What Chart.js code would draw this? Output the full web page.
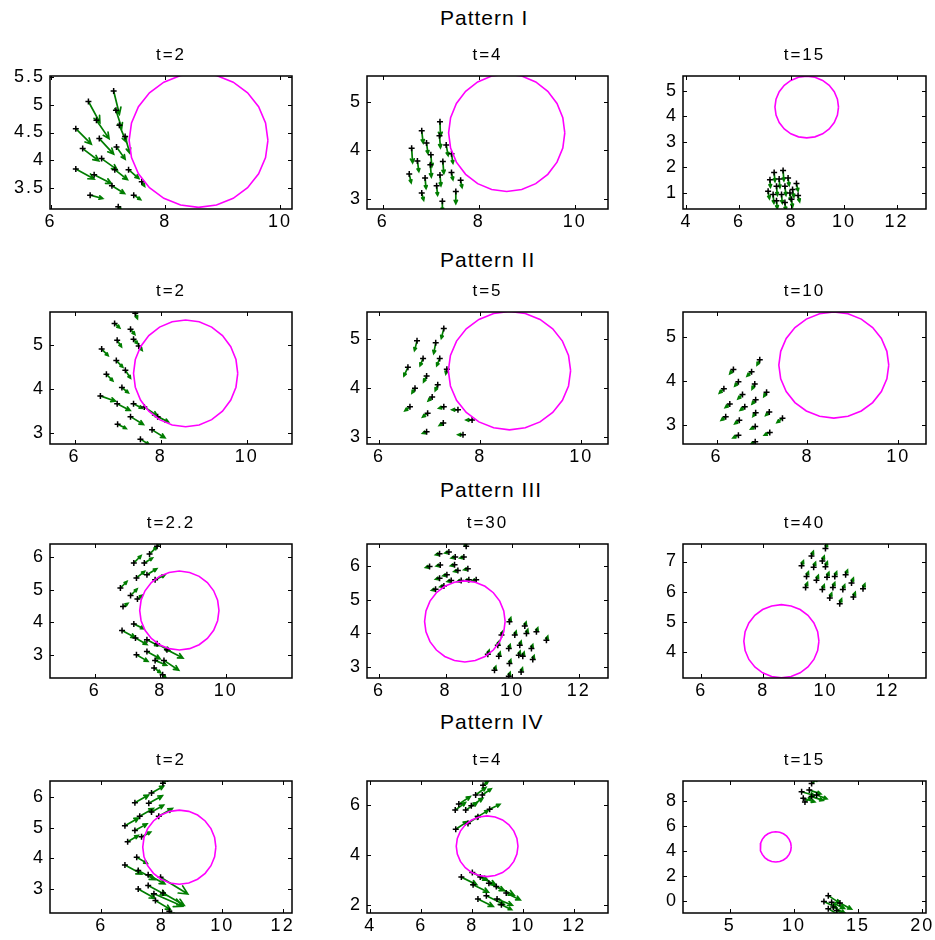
<!DOCTYPE html>
<html>
<head>
<meta charset="utf-8">
<script src="https://cdn.jsdelivr.net/npm/chart.js@4.4.1/dist/chart.umd.min.js"></script>
<style>
  body { margin: 0; background: #fff; width: 935px; height: 940px; position: relative; overflow: hidden;
         font-family: "Liberation Sans", Arial, sans-serif; }
  .heading { position: absolute; font-size: 21px; letter-spacing: 1px; color: #000; white-space: nowrap; }
</style>
</head>
<body>
<div class="heading" style="left:440px;top:6px">Pattern I</div>
<div class="heading" style="left:440px;top:248px">Pattern II</div>
<div class="heading" style="left:440px;top:478px">Pattern III</div>
<div class="heading" style="left:440px;top:710px">Pattern IV</div>
<script>
// obstacle (circle) shared by every snapshot
const obstacleCenter = [8.58, 4.36];
const obstacleRadius = 1.21;

// agents per snapshot: [x, y, u, v]  (position and heading vector)
const agentsI_t2 = [
  [7.10, 5.25, 0.10, -0.42], [6.66, 5.06, 0.20, -0.38], [7.14, 4.90, 0.10, -0.32],
  [6.80, 4.72, 0.22, -0.33], [7.20, 4.63, 0.12, -0.30], [7.30, 4.43, 0.08, -0.30],
  [6.44, 4.57, 0.27, -0.28], [6.85, 4.39, 0.25, -0.28], [7.15, 4.24, 0.15, -0.22],
  [6.56, 4.21, 0.28, -0.22], [6.89, 4.03, 0.27, -0.20], [7.12, 3.83, 0.22, -0.18],
  [7.36, 3.83, 0.18, -0.16], [6.44, 3.84, 0.32, -0.18], [6.76, 3.74, 0.30, -0.16],
  [7.59, 3.61, 0.05, -0.08], [7.07, 3.54, 0.22, -0.14], [6.69, 3.37, 0.22, -0.06],
  [7.45, 3.37, 0.12, -0.08], [7.18, 3.16, 0.05, -0.06]
];
const agentsI_t4 = [
  [7.19, 4.59, 0.01, -0.30], [6.81, 4.40, 0.03, -0.25], [6.91, 4.15, 0.03, -0.22],
  [6.60, 4.04, 0.02, -0.30], [7.18, 4.30, 0.02, -0.25], [7.32, 4.11, 0.04, -0.22],
  [6.72, 3.78, 0.03, -0.22], [7.00, 3.91, 0.02, -0.25], [7.43, 3.93, 0.03, -0.20],
  [7.25, 3.77, 0.02, -0.25], [6.99, 3.70, 0.02, -0.25], [6.55, 3.51, 0.04, -0.18],
  [6.88, 3.43, 0.02, -0.22], [7.19, 3.49, 0.02, -0.22], [7.43, 3.54, 0.03, -0.15],
  [7.62, 3.38, 0.03, -0.15], [7.12, 3.27, 0.02, -0.20], [6.81, 3.12, 0.04, -0.15],
  [7.52, 3.15, 0.00, -0.25], [7.24, 2.95, 0.00, -0.20]
];
const agentsI_t15 = [
  [7.34, 1.79, 0.03, -0.35], [7.68, 1.87, 0.03, -0.40], [7.18, 1.51, 0.02, -0.30],
  [7.53, 1.54, 0.03, -0.35], [7.87, 1.58, 0.04, -0.30], [8.19, 1.36, 0.06, -0.30],
  [7.11, 1.06, 0.05, -0.30], [7.43, 1.25, 0.03, -0.35], [7.75, 1.25, 0.04, -0.35],
  [8.04, 1.13, 0.05, -0.30], [7.30, 0.93, 0.03, -0.35], [7.62, 0.93, 0.03, -0.35],
  [7.94, 0.99, 0.03, -0.30], [8.25, 0.89, 0.06, -0.25], [7.43, 0.68, 0.03, -0.30],
  [7.75, 0.62, 0.03, -0.30], [8.00, 0.74, 0.04, -0.30]
];
const agentsII_t2 = [
  [7.41, 5.72, 0.05, -0.12], [6.93, 5.49, 0.12, -0.10], [7.30, 5.36, 0.10, -0.12],
  [6.99, 5.11, 0.10, -0.15], [7.37, 5.13, 0.10, -0.10], [6.63, 4.91, 0.15, -0.15],
  [7.49, 4.98, 0.08, -0.10], [6.97, 4.65, 0.15, -0.15], [7.18, 4.43, 0.12, -0.18],
  [6.74, 4.34, 0.15, -0.15], [7.10, 4.04, 0.15, -0.12], [6.60, 3.85, 0.35, -0.12],
  [6.99, 3.67, 0.30, -0.15], [7.37, 3.67, 0.20, -0.10], [7.62, 3.60, 0.30, -0.20],
  [7.30, 3.38, 0.30, -0.18], [7.93, 3.38, 0.25, -0.12], [7.00, 3.21, 0.20, -0.10],
  [7.80, 3.08, 0.30, -0.18], [7.53, 2.87, 0.20, -0.12]
];
const agentsII_t5 = [
  [7.28, 5.22, -0.05, -0.20], [6.75, 4.97, -0.05, -0.20], [7.12, 4.93, -0.04, -0.22],
  [6.87, 4.61, -0.06, -0.15], [7.20, 4.61, -0.06, -0.15], [6.57, 4.43, -0.08, -0.18],
  [6.94, 4.25, -0.06, -0.12], [7.34, 4.39, -0.02, -0.10], [7.16, 4.07, -0.05, -0.12],
  [6.71, 4.00, -0.06, -0.10], [7.05, 3.82, -0.08, -0.08], [6.61, 3.62, -0.10, -0.08],
  [6.96, 3.49, -0.10, -0.08], [7.28, 3.62, -0.10, -0.03], [7.56, 3.56, -0.12, 0.00],
  [7.84, 3.35, -0.12, 0.00], [7.27, 3.29, -0.08, -0.05], [6.94, 3.11, -0.08, -0.03],
  [7.66, 3.05, -0.10, 0.00]
];
const agentsII_t10 = [
  [6.95, 4.48, -0.06, -0.12], [6.37, 4.26, -0.08, -0.10], [6.77, 4.21, -0.10, -0.10],
  [6.48, 3.98, -0.08, -0.10], [6.84, 3.93, -0.06, -0.12], [6.16, 3.82, -0.10, -0.10],
  [7.10, 3.74, -0.06, -0.10], [6.57, 3.69, -0.10, -0.10], [6.86, 3.57, -0.08, -0.10],
  [6.29, 3.47, -0.10, -0.08], [6.62, 3.41, -0.10, -0.08], [6.86, 3.27, -0.06, -0.08],
  [7.16, 3.29, -0.08, -0.08], [6.20, 3.18, -0.10, -0.08], [6.50, 3.10, -0.10, -0.08],
  [7.45, 3.15, -0.12, -0.10], [6.85, 2.96, -0.10, -0.06], [7.17, 2.82, -0.12, -0.06],
  [6.48, 2.76, -0.12, -0.06], [6.85, 2.61, -0.10, -0.06]
];
const agentsIII_t2_2 = [
  [7.90, 6.33, 0.20, 0.20], [7.67, 6.09, 0.22, 0.22], [7.19, 5.82, 0.22, 0.22],
  [7.51, 5.82, 0.25, 0.15], [7.59, 5.46, 0.30, 0.18], [7.27, 5.36, 0.25, 0.20],
  [7.84, 5.30, 0.30, 0.15], [6.78, 5.05, 0.20, 0.20], [7.09, 4.82, 0.20, 0.20],
  [7.30, 4.71, 0.15, 0.12], [6.86, 4.48, 0.15, 0.10],
  [7.19, 3.95, 0.30, -0.15], [6.83, 3.75, 0.40, -0.22], [7.24, 3.52, 0.35, -0.20],
  [7.59, 3.46, 0.35, -0.18], [7.90, 3.34, 0.40, -0.22], [8.20, 3.16, 0.49, -0.26],
  [7.27, 3.00, 0.35, -0.20], [7.59, 3.10, 0.40, -0.22], [7.84, 2.83, 0.35, -0.15],
  [8.11, 2.83, 0.45, -0.30], [7.81, 2.60, 0.20, -0.15], [8.07, 2.39, 0.10, -0.10]
];
const agentsIII_t30 = [
  [7.82, 6.38, -0.12, -0.03], [8.10, 6.43, -0.12, -0.03], [8.29, 6.28, -0.12, -0.03],
  [8.55, 6.28, -0.12, -0.03], [8.62, 6.60, -0.05, 0.10], [7.52, 6.00, -0.12, -0.03],
  [7.84, 6.04, -0.12, -0.03], [8.27, 6.05, -0.12, -0.03], [8.67, 5.93, -0.12, -0.03],
  [8.04, 5.75, -0.12, -0.03], [8.37, 5.88, -0.12, -0.03], [7.82, 5.65, -0.12, -0.03],
  [7.70, 5.32, -0.12, -0.03], [7.95, 5.42, -0.12, -0.03], [8.17, 5.58, -0.12, -0.03],
  [8.47, 5.58, -0.12, -0.03], [8.70, 5.60, -0.12, -0.03], [8.92, 5.60, -0.12, -0.03],
  [9.92, 4.35, 0.04, 0.12], [10.38, 4.22, 0.04, 0.12], [9.68, 3.95, 0.04, 0.12],
  [10.08, 3.95, 0.04, 0.12], [10.43, 4.00, 0.04, 0.12], [10.73, 4.05, 0.04, 0.12],
  [11.03, 3.80, 0.04, 0.12], [9.57, 3.65, 0.04, 0.12], [9.90, 3.55, 0.04, 0.12],
  [10.23, 3.65, 0.04, 0.12], [10.58, 3.55, 0.04, 0.12], [9.27, 3.38, 0.04, 0.12],
  [9.60, 3.32, 0.04, 0.12], [10.20, 3.35, 0.04, 0.12], [10.32, 3.32, 0.04, 0.12],
  [10.62, 3.22, 0.04, 0.12], [9.92, 3.10, 0.04, 0.12], [9.47, 2.90, 0.04, 0.12],
  [10.27, 2.85, 0.04, 0.12], [9.90, 2.72, 0.04, 0.12]
];
const agentsIII_t40 = [
  [10.00, 7.43, 0.06, 0.16], [9.55, 7.18, 0.06, 0.16], [9.90, 7.02, 0.06, 0.16],
  [9.23, 6.86, 0.06, 0.16], [9.62, 6.81, 0.06, 0.16], [10.00, 6.83, 0.06, 0.16],
  [9.39, 6.50, 0.06, 0.16], [10.05, 6.48, 0.06, 0.16], [10.30, 6.50, 0.06, 0.16],
  [10.65, 6.56, 0.06, 0.16], [9.71, 6.38, 0.06, 0.16], [9.36, 6.14, 0.06, 0.16],
  [9.90, 6.07, 0.06, 0.16], [10.24, 6.14, 0.06, 0.16], [10.56, 6.07, 0.06, 0.16],
  [10.84, 6.29, 0.06, 0.16], [11.21, 6.10, 0.06, 0.16], [10.90, 5.82, 0.06, 0.16],
  [10.14, 5.79, 0.06, 0.16], [10.46, 5.60, 0.06, 0.16]
];
const agentsIV_t2 = [
  [8.04, 6.45, 0.20, 0.15], [7.66, 6.13, 0.40, 0.22], [7.11, 5.81, 0.45, 0.25],
  [7.57, 5.79, 0.45, 0.25], [7.27, 5.37, 0.45, 0.25], [7.66, 5.51, 0.40, 0.22],
  [7.90, 5.37, 0.45, 0.25], [6.78, 5.06, 0.45, 0.25], [7.11, 4.90, 0.40, 0.22],
  [7.33, 4.70, 0.30, 0.15], [6.87, 4.54, 0.35, 0.20],
  [7.17, 4.03, 0.35, -0.20], [6.78, 3.78, 0.55, -0.30], [7.22, 3.60, 0.55, -0.30],
  [7.55, 3.46, 0.55, -0.30], [7.96, 3.38, 0.90, -0.55], [7.22, 2.99, 0.55, -0.30],
  [7.55, 3.11, 0.60, -0.32], [7.74, 2.84, 0.95, -0.41], [8.04, 2.86, 0.70, -0.40],
  [7.79, 2.62, 0.50, -0.30], [8.25, 2.27, 0.20, -0.15]
];
const agentsIV_t4 = [
  [8.42, 6.79, 0.20, 0.15], [8.13, 6.40, 0.40, 0.30], [8.39, 6.40, 0.35, 0.25],
  [7.47, 6.04, 0.45, 0.30], [7.96, 5.97, 0.45, 0.30], [8.68, 5.83, 0.40, 0.20],
  [7.33, 5.80, 0.40, 0.30], [7.74, 5.80, 0.45, 0.30], [8.22, 5.54, 0.40, 0.25],
  [7.83, 5.27, 0.45, 0.30], [7.35, 5.04, 0.45, 0.30],
  [8.00, 3.31, 0.60, -0.30], [7.57, 3.13, 0.60, -0.30], [8.31, 3.13, 0.60, -0.30],
  [8.65, 2.89, 0.60, -0.30], [8.03, 2.83, 0.60, -0.30], [8.94, 2.76, 0.70, -0.35],
  [9.33, 2.50, 0.55, -0.28], [8.55, 2.39, 0.70, -0.35], [8.22, 2.26, 0.60, -0.30],
  [8.97, 2.26, 0.60, -0.25], [9.14, 2.03, 0.40, -0.20]
];
const agentsIV_t15 = [
  [11.38, 9.43, 0.50, 0.40], [10.60, 8.78, 1.00, -0.30], [11.20, 8.91, 0.90, -0.30],
  [11.77, 8.52, 0.80, -0.30], [10.73, 8.26, 0.90, -0.30], [11.38, 8.39, 0.90, -0.30],
  [10.86, 7.95, 0.50, 0.40],
  [12.68, 0.45, 0.90, -0.60], [12.34, -0.02, 1.00, -0.50], [12.94, -0.07, 1.00, -0.50],
  [13.59, -0.13, 0.90, -0.50], [13.07, -0.46, 0.90, -0.50], [12.68, -0.59, 0.80, -0.50],
  [13.33, -0.73, 0.80, -0.40]
];

// axis limits and tick values per snapshot
const snapshots = [
  { title: 't=2',   agents: agentsI_t2,     xRange: [5.99, 10.21], yRange: [3.12, 5.52], xTicks: [6, 8, 10],         yTicks: [3.5, 4, 4.5, 5, 5.5] },
  { title: 't=4',   agents: agentsI_t4,     xRange: [5.67, 10.69], yRange: [2.79, 5.53], xTicks: [6, 8, 10],         yTicks: [3, 4, 5] },
  { title: 't=15',  agents: agentsI_t15,    xRange: [3.87, 13.12], yRange: [0.36, 5.58], xTicks: [4, 6, 8, 10, 12],  yTicks: [1, 2, 3, 4, 5] },
  { title: 't=2',   agents: agentsII_t2,    xRange: [5.43, 11.05], yRange: [2.76, 5.75], xTicks: [6, 8, 10],         yTicks: [3, 4, 5] },
  { title: 't=5',   agents: agentsII_t5,    xRange: [5.76, 10.53], yRange: [2.86, 5.56], xTicks: [6, 8, 10],         yTicks: [3, 4, 5] },
  { title: 't=10',  agents: agentsII_t10,   xRange: [5.26, 10.61], yRange: [2.56, 5.57], xTicks: [6, 8, 10],         yTicks: [3, 4, 5] },
  { title: 't=2.2', agents: agentsIII_t2_2, xRange: [4.63, 12.02], yRange: [2.29, 6.40], xTicks: [6, 8, 10],         yTicks: [3, 4, 5, 6] },
  { title: 't=30',  agents: agentsIII_t30,  xRange: [5.64, 12.88], yRange: [2.67, 6.67], xTicks: [6, 8, 10, 12],     yTicks: [3, 4, 5, 6] },
  { title: 't=40',  agents: agentsIII_t40,  xRange: [5.41, 13.24], yRange: [3.14, 7.58], xTicks: [6, 8, 10, 12],     yTicks: [4, 5, 6, 7] },
  { title: 't=2',   agents: agentsIV_t2,    xRange: [4.30, 12.31], yRange: [2.21, 6.52], xTicks: [6, 8, 10, 12],     yTicks: [3, 4, 5, 6] },
  { title: 't=4',   agents: agentsIV_t4,    xRange: [3.87, 13.32], yRange: [1.70, 6.96], xTicks: [4, 6, 8, 10, 12],  yTicks: [2, 4, 6] },
  { title: 't=15',  agents: agentsIV_t15,   xRange: [1.35, 20.30], yRange: [-0.94, 9.64], xTicks: [5, 10, 15, 20],   yTicks: [0, 2, 4, 6, 8] }
];

// plot-box placement on the page
const colLeft = [50, 367, 683];
const colWidth = [242, 241, 243];
const rowTop = [76, 312, 544, 781];
const rowHeight = [133, 132, 134, 132];
const ML = 48, MT = 32, MR = 14, MB = 30;
const FONT = '"Liberation Sans", Arial, sans-serif';
const ARROW = 'rgb(0,125,0)';

function outline(n) {
  const pts = [];
  for (let i = 0; i <= n; i++) {
    const t = 2 * Math.PI * i / n;
    pts.push({ x: obstacleCenter[0] + obstacleRadius * Math.cos(t), y: obstacleCenter[1] + obstacleRadius * Math.sin(t) });
  }
  return pts;
}

// wider glyph spacing for every label drawn on the canvas
const spacingPlugin = {
  id: 'spacing',
  beforeDraw(chart) { chart.ctx.letterSpacing = '2px'; }
};

// arrows drawn under the markers, clipped to the plot box
const quiverPlugin = {
  id: 'quiver',
  beforeDatasetsDraw(chart, args, opts) {
    const { ctx, chartArea: a, scales: { x, y } } = chart;
    ctx.save();
    ctx.beginPath();
    ctx.rect(a.left, a.top, a.right - a.left, a.bottom - a.top);
    ctx.clip();
    ctx.strokeStyle = ARROW;
    ctx.lineWidth = 1.7;
    ctx.lineCap = 'round';
    (opts.agents || []).forEach(([px, py, u, v]) => {
      const x0 = x.getPixelForValue(px), y0 = y.getPixelForValue(py);
      const x1 = x.getPixelForValue(px + u), y1 = y.getPixelForValue(py + v);
      const ang = Math.atan2(y1 - y0, x1 - x0);
      const head = Math.max(3, Math.hypot(x1 - x0, y1 - y0) * 0.3);
      ctx.beginPath();
      ctx.moveTo(x0, y0);
      ctx.lineTo(x1, y1);
      ctx.moveTo(x1 - head * Math.cos(ang - 0.45), y1 - head * Math.sin(ang - 0.45));
      ctx.lineTo(x1, y1);
      ctx.lineTo(x1 - head * Math.cos(ang + 0.45), y1 - head * Math.sin(ang + 0.45));
      ctx.stroke();
    });
    ctx.restore();
  }
};

// box with inward tick marks on all four sides
const framePlugin = {
  id: 'frame',
  afterDatasetsDraw(chart) {
    const { ctx, chartArea: a, scales: { x, y } } = chart;
    ctx.save();
    ctx.strokeStyle = '#000';
    ctx.lineWidth = 1.5;
    ctx.strokeRect(a.left, a.top, a.right - a.left, a.bottom - a.top);
    ctx.lineWidth = 1;
    ctx.beginPath();
    x.ticks.forEach(t => {
      const px = Math.round(x.getPixelForValue(t.value)) + 0.5;
      ctx.moveTo(px, a.bottom); ctx.lineTo(px, a.bottom - 4);
      ctx.moveTo(px, a.top); ctx.lineTo(px, a.top + 4);
    });
    y.ticks.forEach(t => {
      const py = Math.round(y.getPixelForValue(t.value)) + 0.5;
      ctx.moveTo(a.left, py); ctx.lineTo(a.left + 4, py);
      ctx.moveTo(a.right, py); ctx.lineTo(a.right - 4, py);
    });
    ctx.stroke();
    ctx.restore();
  }
};

snapshots.forEach((s, i) => {
  const col = i % 3, row = Math.floor(i / 3);
  const w = colWidth[col] + ML + MR, h = rowHeight[row] + MT + MB;
  const canvas = document.createElement('canvas');
  canvas.width = w;
  canvas.height = h;
  canvas.style.cssText = `position:absolute;left:${colLeft[col] - ML}px;top:${rowTop[row] - MT}px;width:${w}px;height:${h}px`;
  document.body.appendChild(canvas);

  const tickFont = { family: FONT, size: 18 };
  new Chart(canvas, {
    type: 'scatter',
    data: {
      datasets: [
        { type: 'line', data: outline(24), borderColor: '#ff00ff', borderWidth: 1.6, pointRadius: 0, fill: false, tension: 0 },
        { data: s.agents.map(a => ({ x: a[0], y: a[1] })), pointStyle: 'cross', pointRadius: 3, borderColor: '#000', borderWidth: 1.5 }
      ]
    },
    options: {
      responsive: false,
      animation: false,
      events: [],
      layout: { padding: { left: 0, right: MR, top: 0, bottom: 0 } },
      plugins: {
        legend: { display: false },
        tooltip: { enabled: false },
        title: {
          display: true, fullSize: false, text: s.title, color: '#000',
          font: { family: FONT, size: 17, weight: 'normal', lineHeight: 1.2 },
          padding: { top: 1, bottom: 10.6 }
        },
        quiver: { agents: s.agents }
      },
      scales: {
        x: {
          type: 'linear', min: s.xRange[0], max: s.xRange[1],
          grid: { display: false, drawTicks: false }, border: { display: false },
          ticks: { color: '#000', font: tickFont, padding: 2, maxRotation: 0, callback: v => String(v) },
          afterBuildTicks: sc => { sc.ticks = s.xTicks.map(v => ({ value: v })); },
          afterFit: sc => { sc.height = MB; }
        },
        y: {
          type: 'linear', min: s.yRange[0], max: s.yRange[1],
          grid: { display: false, drawTicks: false }, border: { display: false },
          ticks: { color: '#000', font: tickFont, padding: 5, callback: v => String(v) },
          afterBuildTicks: sc => { sc.ticks = s.yTicks.map(v => ({ value: v })); },
          afterFit: sc => { sc.width = ML; }
        }
      }
    },
    plugins: [spacingPlugin, quiverPlugin, framePlugin]
  });
});
</script>
</body>
</html>
